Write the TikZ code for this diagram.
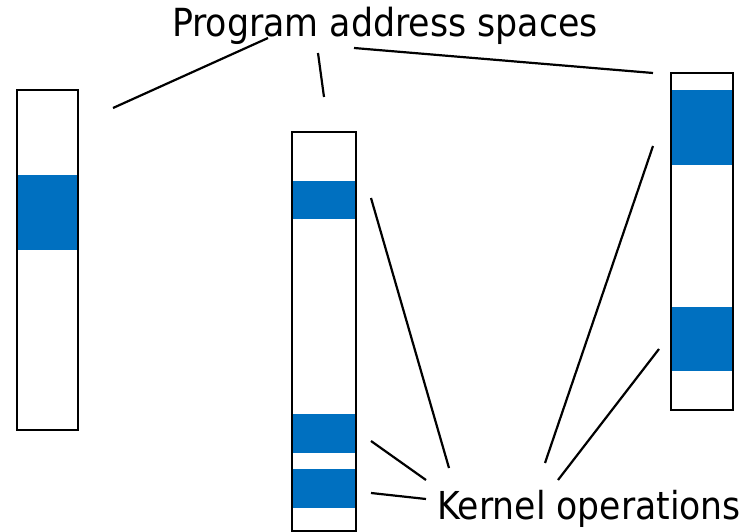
\documentclass[tikz,border=0pt]{standalone}
\usepackage{fontspec}
\setmainfont{DejaVu Sans Condensed}
\definecolor{segblue}{RGB}{0,112,192}
\tikzset{
	bar/.style={draw=black, line width=2.4pt},
	seg/.style={fill=segblue},
	lbl/.style={anchor=base, inner sep=0pt},
	pointer/.style={line width=2.2pt}
}
\begin{document}
\begin{tikzpicture}[x=1pt, y=-1pt]
		\useasboundingbox (0,0) rectangle (748,532);

		% address spaces
		\fill[seg] (17,175) rectangle (78,250);
		\draw[bar] (17,90) rectangle (78,430);

		\fill[seg] (292,181) rectangle (356,219);
		\fill[seg] (292,414) rectangle (356,453);
		\fill[seg] (292,469) rectangle (356,508);
		\draw[bar] (292,132) rectangle (356,531);

		\fill[seg] (671,90) rectangle (733,165);
		\fill[seg] (671,307) rectangle (733,371);
		\draw[bar] (671,73) rectangle (733,410);

		\node[lbl, font=\fontsize{38.7}{44}\selectfont] (spaces) at (385,37) {Program address spaces};
		\node[lbl, font=\fontsize{38.5}{44}\selectfont] (kernel) at (589,519) {Kernel operations};

		\coordinate (s1) at (268,38);
		\coordinate (s2) at (318,53);
		\coordinate (s3) at (354,48);
		\coordinate (a1) at (113,108);
		\coordinate (a2) at (324,97);
		\coordinate (a3) at (653,73);

		\draw[pointer] (s1) -- (a1);
		\draw[pointer] (s2) -- (a2);
		\draw[pointer] (s3) -- (a3);

		\coordinate (k1) at (449,468);
		\coordinate (k2) at (426,480);
		\coordinate (k3) at (426,499);
		\coordinate (k4) at (545,463);
		\coordinate (k5) at (558,480);
		\coordinate (b1) at (371,198);
		\coordinate (b2) at (371,441);
		\coordinate (b3) at (371,493);
		\coordinate (b4) at (653,146);
		\coordinate (b5) at (659,349);

		\draw[pointer] (k1) -- (b1);
		\draw[pointer] (k2) -- (b2);
		\draw[pointer] (k3) -- (b3);
		\draw[pointer] (k4) -- (b4);
		\draw[pointer] (k5) -- (b5);
	\end{tikzpicture}
\end{document}
